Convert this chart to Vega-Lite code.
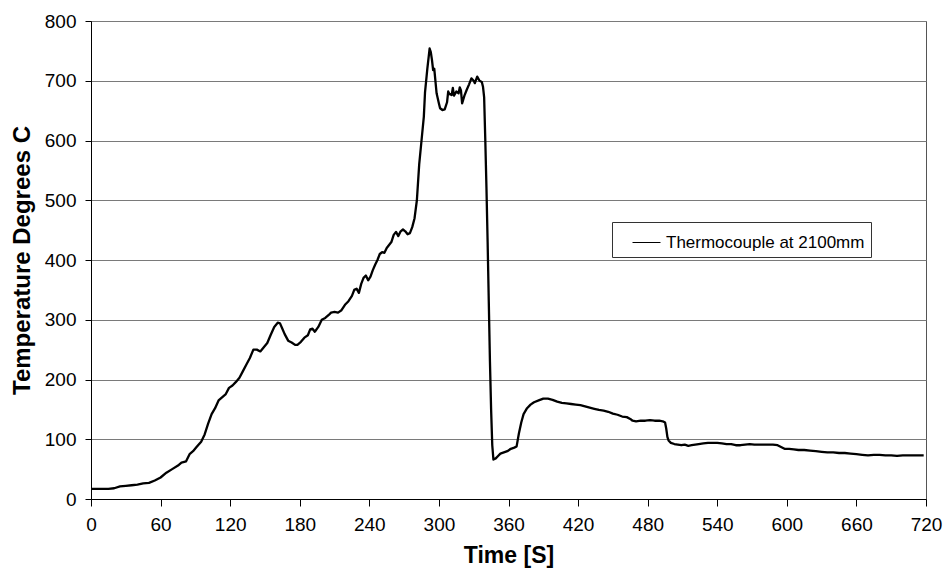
{
  "$schema": "https://vega.github.io/schema/vega-lite/v6.json",
  "width": 835,
  "height": 478,
  "autosize": "none",
  "padding": {"left": 91, "top": 21, "right": 17, "bottom": 77},
  "background": "white",
  "data": {
    "values": [
      {"t": 0, "temp": 17}, {"t": 5, "temp": 17}, {"t": 10, "temp": 17}, {"t": 15, "temp": 17},
      {"t": 20, "temp": 18}, {"t": 25, "temp": 21}, {"t": 30, "temp": 22}, {"t": 35, "temp": 23},
      {"t": 40, "temp": 24}, {"t": 45, "temp": 26}, {"t": 50, "temp": 27}, {"t": 55, "temp": 31},
      {"t": 60, "temp": 36}, {"t": 65, "temp": 44}, {"t": 70, "temp": 50}, {"t": 75, "temp": 56},
      {"t": 78, "temp": 61}, {"t": 82, "temp": 63}, {"t": 85, "temp": 75}, {"t": 88, "temp": 80},
      {"t": 91, "temp": 87}, {"t": 95, "temp": 96}, {"t": 98, "temp": 108}, {"t": 101, "temp": 126},
      {"t": 104, "temp": 142}, {"t": 107, "temp": 152}, {"t": 110, "temp": 165}, {"t": 113, "temp": 170},
      {"t": 116, "temp": 175}, {"t": 119, "temp": 186}, {"t": 122, "temp": 190}, {"t": 125, "temp": 196},
      {"t": 128, "temp": 203}, {"t": 131, "temp": 214}, {"t": 134, "temp": 225}, {"t": 137, "temp": 236},
      {"t": 140, "temp": 250}, {"t": 143, "temp": 250}, {"t": 146, "temp": 247}, {"t": 149, "temp": 254},
      {"t": 152, "temp": 261}, {"t": 155, "temp": 275}, {"t": 158, "temp": 288}, {"t": 161, "temp": 295},
      {"t": 163, "temp": 294}, {"t": 165, "temp": 285}, {"t": 167, "temp": 276}, {"t": 170, "temp": 265},
      {"t": 173, "temp": 262}, {"t": 176, "temp": 258}, {"t": 178, "temp": 258}, {"t": 181, "temp": 263},
      {"t": 184, "temp": 270}, {"t": 187, "temp": 274}, {"t": 189, "temp": 284}, {"t": 191, "temp": 285},
      {"t": 193, "temp": 280}, {"t": 196, "temp": 288}, {"t": 199, "temp": 300}, {"t": 202, "temp": 303},
      {"t": 205, "temp": 308}, {"t": 207, "temp": 312}, {"t": 210, "temp": 313}, {"t": 213, "temp": 312},
      {"t": 216, "temp": 316}, {"t": 219, "temp": 325}, {"t": 222, "temp": 331}, {"t": 225, "temp": 340},
      {"t": 227, "temp": 350}, {"t": 229, "temp": 352}, {"t": 231, "temp": 345}, {"t": 233, "temp": 360},
      {"t": 235, "temp": 370}, {"t": 237, "temp": 374}, {"t": 239, "temp": 366}, {"t": 241, "temp": 372},
      {"t": 243, "temp": 383}, {"t": 245, "temp": 392}, {"t": 247, "temp": 400}, {"t": 249, "temp": 410},
      {"t": 251, "temp": 413}, {"t": 253, "temp": 412}, {"t": 255, "temp": 420}, {"t": 257, "temp": 425},
      {"t": 259, "temp": 430}, {"t": 261, "temp": 442}, {"t": 263, "temp": 447}, {"t": 265, "temp": 440},
      {"t": 267, "temp": 448}, {"t": 269, "temp": 451}, {"t": 271, "temp": 448}, {"t": 273, "temp": 443},
      {"t": 275, "temp": 445}, {"t": 277, "temp": 455}, {"t": 279, "temp": 470}, {"t": 281, "temp": 500},
      {"t": 283, "temp": 560}, {"t": 285, "temp": 600}, {"t": 287, "temp": 640}, {"t": 288, "temp": 680},
      {"t": 290, "temp": 720}, {"t": 292, "temp": 754}, {"t": 293, "temp": 748}, {"t": 294, "temp": 735},
      {"t": 295, "temp": 718}, {"t": 296, "temp": 720}, {"t": 298, "temp": 679}, {"t": 300, "temp": 662},
      {"t": 301, "temp": 654}, {"t": 303, "temp": 651}, {"t": 305, "temp": 652}, {"t": 307, "temp": 664},
      {"t": 308, "temp": 682}, {"t": 309, "temp": 678}, {"t": 311, "temp": 676}, {"t": 312, "temp": 688},
      {"t": 313, "temp": 675}, {"t": 315, "temp": 682}, {"t": 317, "temp": 679}, {"t": 318, "temp": 689},
      {"t": 319, "temp": 684}, {"t": 320, "temp": 662}, {"t": 322, "temp": 675}, {"t": 324, "temp": 685},
      {"t": 326, "temp": 694}, {"t": 328, "temp": 704}, {"t": 330, "temp": 700}, {"t": 331, "temp": 696},
      {"t": 333, "temp": 707}, {"t": 335, "temp": 700}, {"t": 337, "temp": 698}, {"t": 338, "temp": 690},
      {"t": 339, "temp": 672}, {"t": 340, "temp": 600}, {"t": 341, "temp": 520}, {"t": 342, "temp": 430},
      {"t": 343, "temp": 330}, {"t": 344, "temp": 230}, {"t": 345, "temp": 150}, {"t": 346, "temp": 90},
      {"t": 347, "temp": 66}, {"t": 349, "temp": 68}, {"t": 351, "temp": 72}, {"t": 353, "temp": 76},
      {"t": 356, "temp": 78}, {"t": 359, "temp": 80}, {"t": 362, "temp": 84}, {"t": 365, "temp": 86},
      {"t": 367, "temp": 88}, {"t": 369, "temp": 110}, {"t": 371, "temp": 128}, {"t": 373, "temp": 142},
      {"t": 376, "temp": 152}, {"t": 379, "temp": 158}, {"t": 382, "temp": 162}, {"t": 386, "temp": 165},
      {"t": 390, "temp": 168}, {"t": 394, "temp": 168}, {"t": 398, "temp": 166}, {"t": 402, "temp": 163},
      {"t": 406, "temp": 161}, {"t": 410, "temp": 160}, {"t": 414, "temp": 159}, {"t": 418, "temp": 158},
      {"t": 422, "temp": 157}, {"t": 426, "temp": 155}, {"t": 430, "temp": 153}, {"t": 434, "temp": 151},
      {"t": 438, "temp": 149}, {"t": 442, "temp": 148}, {"t": 446, "temp": 146}, {"t": 450, "temp": 143},
      {"t": 454, "temp": 141}, {"t": 458, "temp": 138}, {"t": 462, "temp": 137}, {"t": 465, "temp": 134},
      {"t": 467, "temp": 131}, {"t": 470, "temp": 130}, {"t": 474, "temp": 131}, {"t": 478, "temp": 131},
      {"t": 482, "temp": 132}, {"t": 486, "temp": 131}, {"t": 490, "temp": 131}, {"t": 493, "temp": 130},
      {"t": 495, "temp": 128}, {"t": 496, "temp": 118}, {"t": 497, "temp": 104}, {"t": 498, "temp": 98},
      {"t": 500, "temp": 94}, {"t": 503, "temp": 92}, {"t": 506, "temp": 91}, {"t": 509, "temp": 90},
      {"t": 512, "temp": 91}, {"t": 515, "temp": 89}, {"t": 518, "temp": 90}, {"t": 521, "temp": 91},
      {"t": 524, "temp": 92}, {"t": 528, "temp": 93}, {"t": 532, "temp": 94}, {"t": 536, "temp": 94},
      {"t": 540, "temp": 94}, {"t": 544, "temp": 93}, {"t": 548, "temp": 92}, {"t": 552, "temp": 92},
      {"t": 556, "temp": 90}, {"t": 560, "temp": 90}, {"t": 564, "temp": 91}, {"t": 568, "temp": 92},
      {"t": 572, "temp": 91}, {"t": 576, "temp": 91}, {"t": 580, "temp": 91}, {"t": 584, "temp": 91},
      {"t": 588, "temp": 91}, {"t": 592, "temp": 90}, {"t": 595, "temp": 87}, {"t": 598, "temp": 84},
      {"t": 602, "temp": 84}, {"t": 606, "temp": 83}, {"t": 610, "temp": 82}, {"t": 615, "temp": 82},
      {"t": 620, "temp": 81}, {"t": 625, "temp": 80}, {"t": 630, "temp": 79}, {"t": 635, "temp": 78},
      {"t": 640, "temp": 78}, {"t": 645, "temp": 77}, {"t": 650, "temp": 77}, {"t": 655, "temp": 76},
      {"t": 660, "temp": 75}, {"t": 665, "temp": 74}, {"t": 670, "temp": 73}, {"t": 675, "temp": 74},
      {"t": 680, "temp": 74}, {"t": 685, "temp": 73}, {"t": 690, "temp": 73}, {"t": 695, "temp": 72},
      {"t": 700, "temp": 73}, {"t": 705, "temp": 73}, {"t": 710, "temp": 73}, {"t": 715, "temp": 73},
      {"t": 718, "temp": 73}
    ]
  },
  "mark": {"type": "line", "strokeWidth": 2.3, "strokeJoin": "round"},
  "encoding": {
    "x": {
      "field": "t",
      "type": "quantitative",
      "scale": {"domain": [0, 720], "nice": false, "zero": false},
      "axis": {
        "title": "Time [S]",
        "values": [0, 60, 120, 180, 240, 300, 360, 420, 480, 540, 600, 660, 720],
        "grid": false,
        "tickSize": 7,
        "labelPadding": 9,
        "titlePadding": 10,
        "titleFontSize": 23,
        "labelFlush": false,
        "labelOverlap": false
      }
    },
    "y": {
      "field": "temp",
      "type": "quantitative",
      "scale": {"domain": [0, 800], "nice": false},
      "axis": {
        "title": "Temperature Degrees C",
        "values": [0, 100, 200, 300, 400, 500, 600, 700, 800],
        "grid": true,
        "tickSize": 6,
        "labelPadding": 9,
        "titlePadding": 10,
        "titleFontSize": 24,
        "labelOverlap": false
      }
    },
    "color": {
      "datum": "Thermocouple at 2100mm",
      "type": "nominal",
      "scale": {"range": ["black"]},
      "legend": {
        "title": null,
        "orient": "none",
        "legendX": 521,
        "legendY": 201,
        "strokeColor": "#333333",
        "fillColor": "white",
        "padding": 6,
        "symbolType": "stroke",
        "symbolSize": 784,
        "symbolStrokeWidth": 1,
        "symbolStrokeColor": "black",
        "symbolOffset": 14,
        "labelOffset": 5,
        "labelFontSize": 17,
        "labelFont": "Liberation Sans",
        "labelColor": "black",
        "labelLimit": 400
      }
    }
  },
  "config": {
    "view": {"stroke": "#555555", "strokeWidth": 1},
    "axis": {
      "labelFont": "Liberation Sans",
      "titleFont": "Liberation Sans",
      "labelFontSize": 19,
      "labelColor": "black",
      "titleColor": "black",
      "titleFontWeight": "bold",
      "domainColor": "black",
      "domainWidth": 1,
      "tickColor": "black",
      "tickWidth": 1,
      "gridColor": "#7a7a7a",
      "gridWidth": 1
    }
  }
}
